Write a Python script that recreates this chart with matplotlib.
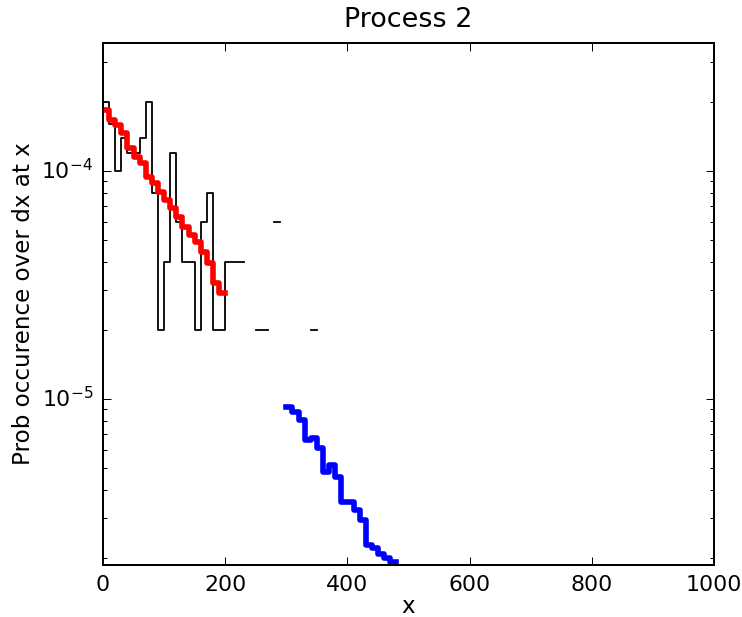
import numpy as np
import matplotlib
matplotlib.use('Agg')
import matplotlib.pyplot as plt
from matplotlib.ticker import NullFormatter, FixedLocator

# histogram of observed events (bin width 10, zero bins are not drawn on the log axis)
bin_width = 10
hist_start = 0
hist_prob = [2.0e-4, 1.6e-4, 1.0e-4, 1.4e-4, 1.2e-4, 1.2e-4, 1.4e-4, 2.0e-4,
             8e-5, 2e-5, 4e-5, 1.2e-4, 6e-5, 4e-5, 4e-5, 2e-5, 6e-5, 8e-5,
             2e-5, 2e-5, 4e-5, 4e-5, 4e-5, 0, 0, 2e-5, 2e-5, 0, 6e-5,
             0, 0, 0, 0, 0, 2e-5]

# fitted curve, first regime
red_start = 0
red_prob = [1.85e-4, 1.67e-4, 1.59e-4, 1.46e-4, 1.26e-4, 1.155e-4, 1.08e-4,
            9.44e-5, 8.83e-5, 8.11e-5, 7.46e-5, 6.86e-5, 6.30e-5, 5.70e-5,
            5.24e-5, 4.90e-5, 4.43e-5, 3.94e-5, 3.22e-5, 2.91e-5]

# fitted curve, second regime
blue_start = 300
blue_prob = [9.25e-6, 8.8e-6, 8.09e-6, 6.6e-6, 6.75e-6, 6.1e-6, 4.8e-6,
             5.13e-6, 4.56e-6, 3.55e-6, 3.52e-6, 3.26e-6, 2.95e-6, 2.29e-6,
             2.21e-6, 2.1e-6, 2.0e-6, 1.93e-6]


def step_xy(start, values):
    """Return edges and values (last repeated) for a steps-post line."""
    vals = np.array(values, dtype=float)
    vals[vals <= 0] = np.nan
    edges = start + bin_width * np.arange(len(vals) + 1)
    return edges, np.append(vals, vals[-1])


plt.style.use('classic')
plt.rcParams['mathtext.fontset'] = 'dejavusans'
plt.rcParams['mathtext.default'] = 'regular'
plt.rcParams['axes.unicode_minus'] = False

fig = plt.figure(figsize=(742 / 144, 617 / 144), dpi=144, facecolor='white')
ax = fig.add_axes([0.1388, 0.0843, 0.8235, 0.846])
ax.set_facecolor('white')

x, y = step_xy(hist_start, hist_prob)
ax.plot(x, y, drawstyle='steps-post', color='black', linewidth=0.9)

x, y = step_xy(red_start, red_prob)
ax.plot(x, y, drawstyle='steps-post', color='red', linewidth=2.8)

x, y = step_xy(blue_start, blue_prob)
ax.plot(x, y, drawstyle='steps-post', color='blue', linewidth=2.8)

ax.set_yscale('log')
ax.set_xlim(0, 1000)
ax.set_ylim(1.87e-6, 3.64e-4)
ax.xaxis.set_major_locator(FixedLocator([0, 200, 400, 600, 800, 1000]))
ax.yaxis.set_minor_formatter(NullFormatter())
ax.tick_params(axis='both', which='major', labelsize=11, pad=5)

ax.set_title('Process 2', fontsize=13.5, pad=8)
ax.set_xlabel('x', fontsize=11.5, labelpad=0)
ax.set_ylabel('Prob occurence over dx at x', fontsize=11.5, labelpad=3)

fig.savefig('out.png', dpi=144, facecolor='white')
